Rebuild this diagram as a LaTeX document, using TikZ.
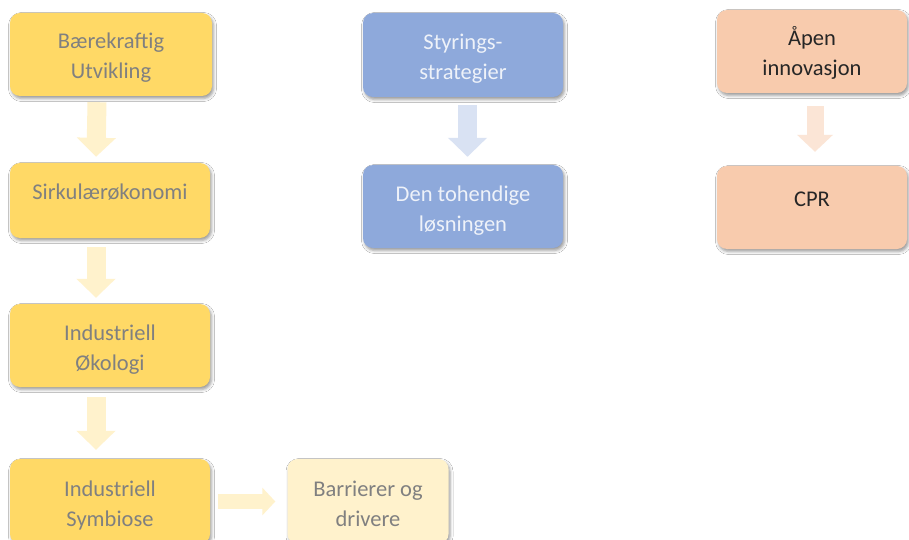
\documentclass[tikz,border=0pt]{standalone}
\usepackage{fontspec}
\setmainfont{Carlito}
\usetikzlibrary{arrows.meta,shadows.blur}

\definecolor{goldbox}{HTML}{FFD966}
\definecolor{goldpale}{HTML}{FFF2CC}
\definecolor{bluebox}{HTML}{8EA9DB}
\definecolor{bluepale}{HTML}{D9E2F3}
\definecolor{peachbox}{HTML}{F8CBAD}
\definecolor{peachpale}{HTML}{FBE5D6}
\definecolor{greytext}{HTML}{808080}
\definecolor{lighttext}{HTML}{EEF2F9}
\definecolor{darktext}{HTML}{262626}

% single-line labels sit a little above the box centre
\newcommand{\highline}[1]{\raisebox{8.5pt}[\height][\depth]{#1}}
% two-line labels sit slightly below it
\newcommand{\twolines}[2]{\raisebox{-3.5pt}[\height][\depth]{%
  \begin{tabular}{@{}c@{}}#1\\#2\end{tabular}}}

\tikzset{
  card/.style={rounded corners=10pt, align=center, inner sep=0pt,
    font=\fontsize{22.5}{30}\selectfont,
    blur shadow={shadow xshift=1.5pt, shadow yshift=-2.5pt,
      shadow blur radius=3pt, shadow opacity=40}},
  goldcard/.style={card, fill=goldbox, text=greytext},
  palecard/.style={card, fill=goldpale, text=greytext},
  bluecard/.style={card, fill=bluebox, text=lighttext},
  peachcard/.style={card, fill=peachbox, text=darktext},
  flow/.style={line width=19pt, -{Triangle[width=38pt,length=19pt]}},
  goldflow/.style={flow, draw=goldpale},
  blueflow/.style={flow, draw=bluepale},
  peachflow/.style={flow, line width=17pt, draw=peachpale,
    -{Triangle[width=35pt,length=17pt]}}
}

\begin{document}
\begin{tikzpicture}[x=1pt, y=-1pt]
  \useasboundingbox[fill=white] (0,0) rectangle (909,540);

  % left column
  \node[goldcard, minimum width=202pt, minimum height=83pt] (y1) at (111,54.5)
    {\twolines{Bærekraftig}{Utvikling}};
  \node[goldcard, minimum width=200pt, minimum height=75pt] (y2) at (110,200.5)
    {\highline{Sirkulærøkonomi}};
  \node[goldcard, minimum width=200pt, minimum height=83pt] (y3) at (110,345.5)
    {\twolines{Industriell}{Økologi}};
  \node[goldcard, minimum width=200pt, minimum height=85pt] (y4) at (110,501.5)
    {\twolines{Industriell}{Symbiose}};
  \node[palecard, minimum width=161pt, minimum height=85pt] (y5) at (368,501.5)
    {\twolines{Barrierer og}{drivere}};

  % middle column
  \node[bluecard, minimum width=200pt, minimum height=84pt] (b1) at (463,55)
    {\twolines{Styrings-}{strategier}};
  \node[bluecard, minimum width=200pt, minimum height=83pt] (b2) at (463,206.5)
    {\twolines{Den tohendige}{løsningen}};

  % right column
  \node[peachcard, minimum width=190pt, minimum height=83pt] (o1) at (812,51.5)
    {\twolines{Åpen}{innovasjon}};
  \node[peachcard, minimum width=190pt, minimum height=83pt] (o2) at (812,207.5)
    {\highline{CPR}};

  % block arrows between the boxes
  \draw[goldflow] ([xshift=-14pt,yshift=-6pt]y1.south) -- ([xshift=-14pt,yshift=6pt]y2.north);
  \draw[goldflow] ([xshift=-14pt,yshift=-9pt]y2.south) -- ([xshift=-14pt,yshift=6pt]y3.north);
  \draw[goldflow] ([xshift=-14pt,yshift=-10pt]y3.south) -- ([xshift=-14pt,yshift=9pt]y4.north);
  \draw[goldflow, line width=15pt, -{Triangle[width=27pt,length=13pt]}]
    ([xshift=8pt]y4.east) -- ([xshift=-12pt]y5.west);
  \draw[blueflow] ([xshift=4.5pt,yshift=-8pt]b1.south) -- ([xshift=4.5pt,yshift=8pt]b2.north);
  \draw[peachflow] ([xshift=3pt,yshift=-13pt]o1.south) -- ([xshift=3pt,yshift=14pt]o2.north);
\end{tikzpicture}
\end{document}
